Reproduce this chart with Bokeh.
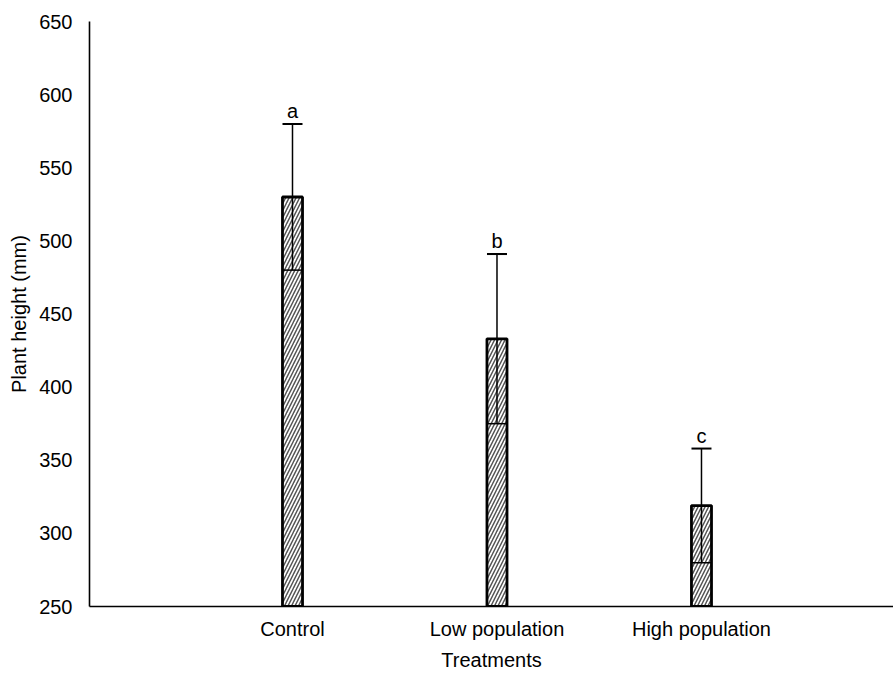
from bokeh.plotting import figure
from bokeh.models import ColumnDataSource, Whisker, TeeHead, FixedTicker, Range1d
from bokeh.core.properties import value
from bokeh.embed import file_html
from bokeh.resources import INLINE

categories = ["Control", "Low population", "High population"]
means = [530, 433, 319]
errors = [50, 58, 39]
letters = ["a", "b", "c"]
y_ticks = [250, 300, 350, 400, 450, 500, 550, 600, 650]
x_title = "Treatments"
y_title = "Plant height (mm)"

xs = [i + 1 for i in range(len(categories))]
lower = [m - e for m, e in zip(means, errors)]
upper = [m + e for m, e in zip(means, errors)]
src = ColumnDataSource(dict(x=xs, top=means, lower=lower, upper=upper, lab=letters))

FONT = "Liberation Sans"
FS = "20px"

p = figure(width=893, height=673, output_backend="svg", toolbar_location=None,
           x_range=Range1d(0.0073, 3.939), y_range=Range1d(250, 650),
           min_border_left=89, min_border_top=21, min_border_right=0, min_border_bottom=0)
p.outline_line_color = None
p.grid.visible = False
p.background_fill_color = "white"

p.vbar(x="x", top="top", bottom=y_ticks[0], width=0.098, source=src,
       fill_color="white", line_color="black", line_width=2.8,
       hatch_pattern="/", hatch_color="#555555", hatch_scale=7, hatch_weight=1.5)

w = Whisker(base="x", lower="lower", upper="upper", source=src, dimension="height",
            line_color="black", line_width=1.5, level="overlay",
            upper_head=TeeHead(size=20, line_width=2, line_color="black"),
            lower_head=TeeHead(size=20, line_width=1.5, line_color="black"))
p.add_layout(w)

p.text(x="x", y="upper", text="lab", source=src, y_offset=-2,
       text_align="center", text_baseline="bottom", text_font=value(FONT),
       text_font_size=FS, text_color="black")

p.yaxis.ticker = FixedTicker(ticks=y_ticks)
p.xaxis.ticker = FixedTicker(ticks=xs)
p.xaxis.major_label_overrides = {x: c for x, c in zip(xs, categories)}

for ax in (p.xaxis[0], p.yaxis[0]):
    ax.major_tick_line_color = None
    ax.minor_tick_line_color = None
    ax.axis_line_color = "black"
    ax.axis_line_width = 1.6
    ax.major_label_text_font = FONT
    ax.major_label_text_font_size = FS
    ax.major_label_text_color = "black"
    ax.axis_label_text_font = FONT
    ax.axis_label_text_font_size = FS
    ax.axis_label_text_font_style = "normal"
    ax.axis_label_text_color = "black"

p.yaxis.axis_label = y_title
p.yaxis.major_label_standoff = 11
p.yaxis.axis_label_standoff = 6
p.xaxis.axis_label = x_title
p.xaxis.major_label_standoff = 5
p.xaxis.axis_label_standoff = 6

open("out.html", "w").write(file_html(p, INLINE))
